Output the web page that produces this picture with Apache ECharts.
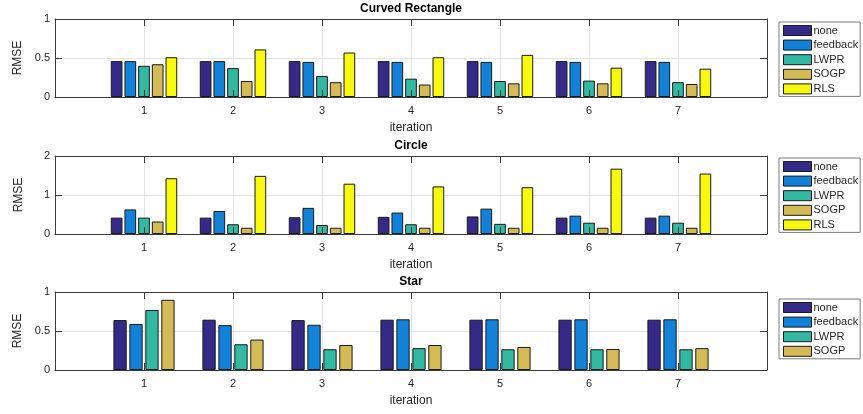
<!DOCTYPE html>
<html>
<head>
<meta charset="utf-8">
<script src="https://cdn.jsdelivr.net/npm/echarts@6/dist/echarts.min.js"></script>
<style>
html, body { margin: 0; padding: 0; background: #fff; }
#main { width: 863px; height: 414px; }
</style>
</head>
<body>
<div id="main"></div>
<script>
// iterations 1..7, empty slots at 0 and 8 so the axis runs 0..8
var iterations = ['', '1', '2', '3', '4', '5', '6', '7', ''];
var methods = ['none', 'feedback', 'LWPR', 'SOGP', 'RLS'];
var methodColors = ['#352a87', '#1282d8', '#33b9a2', '#d5bb58', '#f8fa0d'];

// Curved Rectangle
var rectNone     = [0.46, 0.46, 0.46, 0.46, 0.46, 0.46, 0.46];
var rectFeedback = [0.46, 0.46, 0.45, 0.45, 0.45, 0.45, 0.45];
var rectLWPR     = [0.40, 0.37, 0.27, 0.235, 0.205, 0.21, 0.19];
var rectSOGP     = [0.42, 0.205, 0.19, 0.16, 0.175, 0.175, 0.167];
var rectRLS      = [0.51, 0.61, 0.57, 0.51, 0.54, 0.376, 0.363];

// Circle
var circNone     = [0.42, 0.42, 0.43, 0.44, 0.45, 0.42, 0.42];
var circFeedback = [0.63, 0.59, 0.67, 0.55, 0.65, 0.47, 0.47];
var circLWPR     = [0.42, 0.25, 0.23, 0.25, 0.26, 0.29, 0.29];
var circSOGP     = [0.32, 0.16, 0.16, 0.16, 0.16, 0.16, 0.16];
var circRLS      = [1.43, 1.49, 1.29, 1.22, 1.20, 1.675, 1.55];

// Star (no RLS)
var starNone     = [0.64, 0.645, 0.64, 0.645, 0.645, 0.645, 0.645];
var starFeedback = [0.59, 0.575, 0.58, 0.65, 0.65, 0.65, 0.65];
var starLWPR     = [0.77, 0.33, 0.266, 0.28, 0.266, 0.266, 0.266];
var starSOGP     = [0.90, 0.39, 0.32, 0.32, 0.296, 0.27, 0.28];

var yMax = [1, 2, 1];
var yStep = [0.5, 1, 0.5];
var titles = ['Curved Rectangle', 'Circle', 'Star'];
var panels = [
    [rectNone, rectFeedback, rectLWPR, rectSOGP, rectRLS],
    [circNone, circFeedback, circLWPR, circSOGP, circRLS],
    [starNone, starFeedback, starLWPR, starSOGP]
];

var gridTops = [19, 156, 292];
var legendTops = [22, 158, 299];
var titleTops = [3, 140, 276];
var font = '"Liberation Sans", Arial, sans-serif';
var textColor = '#262626';
var lineColor = '#3a3a3a';

function pad(arr) {
    return [null].concat(arr).concat([null]);
}

var grid = [], xAxis = [], yAxis = [], series = [], legend = [], title = [];

panels.forEach(function (panel, p) {
    grid.push({ left: 55, right: 96, top: gridTops[p], height: 78 });

    title.push({
        text: titles[p], left: 411, top: titleTops[p], textAlign: 'center', padding: 0,
        textStyle: { fontFamily: font, fontSize: 12, fontWeight: 'bold', color: '#000' }
    });

    // bottom axis: labels + ticks drawn over the bars
    xAxis.push({
        type: 'category', gridIndex: p, data: iterations, boundaryGap: false, position: 'bottom', z: 5,
        name: 'iteration', nameLocation: 'middle', nameGap: 25,
        nameTextStyle: { fontFamily: font, fontSize: 12, color: textColor },
        axisLine: { onZero: false, lineStyle: { color: lineColor, width: 1 } },
        axisTick: { inside: true, length: 7, interval: 0, lineStyle: { color: lineColor } },
        axisLabel: { interval: 0, margin: 8, fontFamily: font, fontSize: 11, color: textColor },
        splitLine: { show: false }
    });
    // top axis: grid lines + mirrored ticks
    xAxis.push({
        type: 'category', gridIndex: p, data: iterations, boundaryGap: false, position: 'top',
        axisLine: { onZero: false, lineStyle: { color: lineColor, width: 1 } },
        axisTick: { inside: true, length: 7, interval: 0, lineStyle: { color: lineColor } },
        axisLabel: { show: false },
        splitLine: { show: true, interval: 0, lineStyle: { color: '#e3e3e3' } }
    });

    yAxis.push({
        type: 'value', gridIndex: p, min: 0, max: yMax[p], interval: yStep[p], position: 'left',
        name: 'RMSE', nameLocation: 'middle', nameGap: 30,
        nameTextStyle: { fontFamily: font, fontSize: 12, color: textColor },
        axisLine: { show: true, onZero: false, lineStyle: { color: lineColor, width: 1 } },
        axisTick: { show: true, inside: true, length: 7, lineStyle: { color: lineColor } },
        axisLabel: { margin: 5, fontFamily: font, fontSize: 11, color: textColor },
        splitLine: { show: true, lineStyle: { color: '#e3e3e3' } }
    });
    yAxis.push({
        type: 'value', gridIndex: p, min: 0, max: yMax[p], interval: yStep[p], position: 'right',
        axisLine: { show: true, onZero: false, lineStyle: { color: lineColor, width: 1 } },
        axisTick: { show: true, inside: true, length: 7, lineStyle: { color: lineColor } },
        axisLabel: { show: false },
        splitLine: { show: false }
    });

    var n = panel.length;
    var barW = n === 5 ? 11.7 : 13.3;
    var names = [];
    panel.forEach(function (vals, i) {
        names.push(methods[i]);
        series.push({
            type: 'bar', name: methods[i],
            xAxisIndex: p * 2, yAxisIndex: p * 2,
            data: pad(vals),
            barWidth: barW, barGap: n === 5 ? '17%' : '20%',
            itemStyle: { color: methodColors[i], borderColor: '#1a1a1a', borderWidth: 1 },
            emphasis: { disabled: true },
            animation: false
        });
    });

    legend.push({
        data: names, orient: 'vertical', left: 779, top: legendTops[p],
        width: 82, padding: [3, 2, 2, 4], itemGap: 3.6,
        itemWidth: 28, itemHeight: 10,
        backgroundColor: '#fff', borderColor: '#7a7a7a', borderWidth: 1,
        selectedMode: false, icon: 'rect',
        itemStyle: { borderColor: '#1a1a1a', borderWidth: 1 },
        textStyle: { fontFamily: font, fontSize: 11, color: textColor, padding: [0, 0, 0, -3], lineHeight: 10 }
    });
});

var chart = echarts.init(document.getElementById('main'));
chart.setOption({
    animation: false,
    backgroundColor: '#fff',
    title: title,
    grid: grid,
    xAxis: xAxis,
    yAxis: yAxis,
    legend: legend,
    series: series
});
</script>
</body>
</html>
